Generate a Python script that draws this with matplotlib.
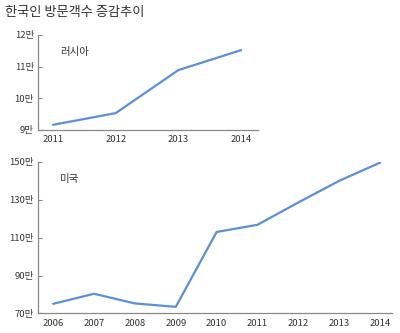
import matplotlib
matplotlib.use("Agg")
import matplotlib.pyplot as plt
from matplotlib.transforms import blended_transform_factory, ScaledTranslation

plt.rcParams['font.family'] = ['Noto Sans CJK KR', 'DejaVu Sans']

title = "한국인 방문객수 증감추이"

russia_label = "러시아"
russia_years = [2011, 2012, 2013, 2014]
russia_values = [9.16, 9.53, 10.89, 11.52]  # 만 명
russia_yticks = [9, 10, 11, 12]
russia_yticklabels = ["9만", "10만", "11만", "12만"]

usa_label = "미국"
usa_years = [2006, 2007, 2008, 2009, 2010, 2011, 2012, 2013, 2014]
usa_values = [75.1, 80.4, 75.3, 73.5, 113.0, 116.8, 128.6, 140.0, 149.6]  # 만 명
usa_yticks = [70, 90, 110, 130, 150]
usa_yticklabels = ["70만", "90만", "110만", "130만", "150만"]

line_color = "#5b8fd6"
text_color = "#333333"
spine_color = "#888888"

fig = plt.figure(figsize=(4.0, 3.33), dpi=100)
fig.patch.set_facecolor("white")

fig.text(0.0125, 0.962, title, fontsize=9.5, color=text_color, ha="left", va="center",
         fontweight="medium")


def style_axes(ax, years, yticks, yticklabels, label, label_y, xlim, ylim):
    ax.set_xlim(*xlim)
    ax.set_ylim(*ylim)
    ax.set_xticks(years)
    ax.set_xticklabels([str(y) for y in years])
    ax.set_yticks(yticks)
    ax.set_yticklabels(yticklabels)
    for s in ("top", "right"):
        ax.spines[s].set_visible(False)
    for s in ("left", "bottom"):
        ax.spines[s].set_color(spine_color)
        ax.spines[s].set_linewidth(0.9)
    ax.tick_params(axis="x", length=0, pad=4, labelsize=6.8, labelcolor=text_color)
    ax.tick_params(axis="y", direction="in", length=3, width=0.8, color=spine_color,
                   pad=3, labelsize=6.8, labelcolor=text_color)
    # series name sits a fixed distance right of the y axis
    trans = ax.transAxes + ScaledTranslation(0.22, 0, fig.dpi_scale_trans)
    ax.text(0.0, label_y, label, transform=trans, fontsize=7.5,
            color=text_color, ha="left", va="center")


ax1 = fig.add_axes([0.095, 0.610, 0.55, 0.285])
ax1.plot(russia_years, russia_values, color=line_color, linewidth=1.6,
         solid_capstyle="round")
style_axes(ax1, russia_years, russia_yticks, russia_yticklabels, russia_label, 0.82,
           (2010.76, 2014.27), (9, 12))

ax2 = fig.add_axes([0.095, 0.0586, 0.885, 0.4554])
ax2.plot(usa_years, usa_values, color=line_color, linewidth=1.6,
         solid_capstyle="round")
style_axes(ax2, usa_years, usa_yticks, usa_yticklabels, usa_label, 0.89,
           (2005.63, 2014.29), (70, 150))

fig.savefig("out.png", dpi=100, facecolor="white")
